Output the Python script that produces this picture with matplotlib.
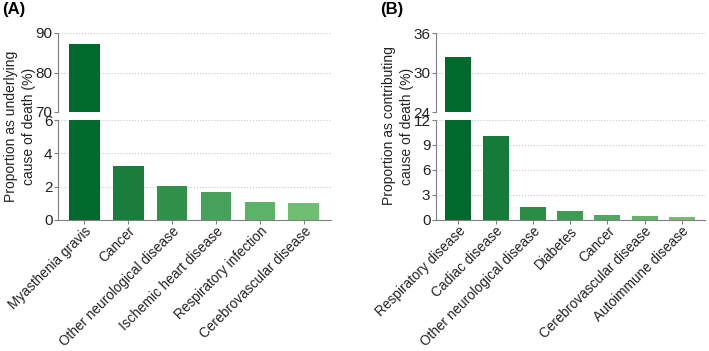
import matplotlib
matplotlib.use('Agg')
import matplotlib.pyplot as plt
import numpy as np

plt.rcParams['font.family'] = ['Liberation Sans', 'DejaVu Sans']

# Panel A data: underlying cause of death
causes_a = ['Myasthenia gravis', 'Cancer', 'Other neurological disease',
            'Ischemic heart disease', 'Respiratory infection', 'Cerebrovascular disease']
values_a = [87.3, 3.24, 2.06, 1.69, 1.08, 1.0]
colors_a = ['#006a2d', '#1a7d3b', '#31914a', '#46a25a', '#5ab366', '#6ebf72']

# Panel B data: contributing cause of death
causes_b = ['Respiratory disease', 'Cadiac disease', 'Other neurological disease',
            'Diabetes', 'Cancer', 'Cerebrovascular disease', 'Autoimmune disease']
values_b = [32.3, 10.1, 1.54, 1.05, 0.6, 0.52, 0.33]
colors_b = ['#006a2d', '#147b39', '#2a8c45', '#3d9b52', '#4fa85d', '#5fb468', '#6fbf72']

W, H = 709, 351
GREY = '#808080'


def px(x0, y0, x1, y1):
    # pixel box -> figure fraction rect
    return [x0 / W, 1 - y1 / H, (x1 - x0) / W, (y1 - y0) / H]


def broken_panel(fig, left, right, causes, values, colors,
                 top_lim, top_ticks, bot_lim, bot_ticks, ylabel, tag):
    ax_top = fig.add_axes(px(left, 33, right, 112))
    ax_bot = fig.add_axes(px(left, 120, right, 220))
    x = np.arange(len(causes))
    for ax in (ax_top, ax_bot):
        ax.bar(x, values, width=0.7, color=colors, zorder=3)
        ax.set_xlim(-0.6, len(causes) - 0.38)
        for s in ['top', 'right']:
            ax.spines[s].set_visible(False)
        ax.spines['left'].set_color(GREY)
        ax.spines['bottom'].set_color(GREY)
        ax.yaxis.grid(True, linestyle=':', color='#c8c8c8', linewidth=0.8, zorder=0)
        ax.tick_params(axis='both', colors=GREY, labelcolor='#222222',
                       labelsize=11, length=3, width=0.8, pad=1)
    ax_top.set_ylim(*top_lim)
    ax_top.set_yticks(top_ticks)
    ax_top.spines['bottom'].set_visible(False)
    ax_top.tick_params(axis='x', bottom=False, labelbottom=False)

    ax_bot.set_ylim(*bot_lim)
    ax_bot.set_yticks(bot_ticks)
    ax_bot.set_xticks(x)
    ax_bot.set_xticklabels(causes, rotation=45, ha='right', rotation_mode='anchor',
                           fontsize=9.8)
    ax_bot.tick_params(axis='x', pad=0)

    fig.text((left - 38) / W, 1 - 126 / H, ylabel, rotation=90, ha='center',
             va='center', fontsize=10, color='#222222', linespacing=1.35)
    fig.text((left - 56) / W, 1 - 2 / H, tag, fontsize=12, fontweight='bold',
             ha='left', va='top')


fig = plt.figure(figsize=(7.09, 3.51), dpi=100)

broken_panel(fig, 58, 331, causes_a, values_a, colors_a,
             (70, 90), [70, 80, 90], (0, 6), [0, 2, 4, 6],
             'Proportion as underlying\ncause of death (%)', '(A)')
broken_panel(fig, 436, 705, causes_b, values_b, colors_b,
             (24, 36), [24, 30, 36], (0, 12), [0, 3, 6, 9, 12],
             'Proportion as contributing\ncause of death (%)', '(B)')

plt.savefig('out.png', dpi=100)
